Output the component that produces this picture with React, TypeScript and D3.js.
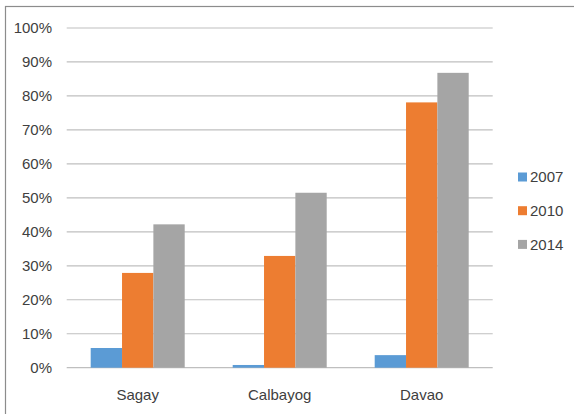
import React from "react";
import * as d3 from "d3";

// Share of households by city and survey year
const cities = ["Sagay", "Calbayog", "Davao"];
const years = ["2007", "2010", "2014"];
const values2007 = [5.8, 0.8, 3.7];
const values2010 = [27.9, 32.9, 78.1];
const values2014 = [42.2, 51.5, 86.8];
const yTicks = [0, 10, 20, 30, 40, 50, 60, 70, 80, 90, 100];
const colors = ["#5B9BD5", "#ED7D31", "#A5A5A5"];

const W = 574;
const H = 414;
const FONT = "'Liberation Sans', Arial, sans-serif";

export default function App() {
  const series = [values2007, values2010, values2014];
  const x0 = d3.scaleBand<string>().domain(cities).range([66.7, 492.7]).paddingInner(0).paddingOuter(0);
  const groupW = x0.bandwidth() * 0.662;
  const x1 = d3
    .scaleBand<string>()
    .domain(years)
    .range([(x0.bandwidth() - groupW) / 2, (x0.bandwidth() + groupW) / 2]);
  const y = d3.scaleLinear().domain([0, 100]).range([367.7, 28]);

  return (
    <svg
      width={W}
      height={H}
      style={{ position: "absolute", left: 0, top: 0, background: "#fff" }}
      fontFamily={FONT}
    >
      <rect x={5.5} y={6.5} width={W} height={H} fill="#fff" stroke="#8c8c8c" strokeWidth={1.2} />
      {yTicks.map((t) => (
        <g key={t}>
          <line x1={x0.range()[0]} x2={x0.range()[1]} y1={y(t)} y2={y(t)} stroke="#bfbfbf" strokeWidth={1.2} />
          <text x={52} y={y(t)} dy="0.35em" textAnchor="end" fontSize={15} fill="#404040">
            {t}%
          </text>
        </g>
      ))}
      {cities.map((c, i) => (
        <g key={c} transform={`translate(${x0(c)},0)`}>
          {years.map((yr, j) => (
            <rect
              key={yr}
              x={x1(yr)}
              y={y(series[j][i])}
              width={x1.bandwidth()}
              height={y(0) - y(series[j][i])}
              fill={colors[j]}
            />
          ))}
          <text x={x0.bandwidth() / 2} y={395} dy="0.35em" textAnchor="middle" fontSize={15} fill="#404040">
            {c}
          </text>
        </g>
      ))}
      {years.map((yr, j) => (
        <g key={yr} transform={`translate(518,${177 + j * 33.7})`}>
          <rect x={0} y={-4.5} width={9} height={9} fill={colors[j]} />
          <text x={12} y={0} dy="0.35em" fontSize={15} fill="#404040">
            {yr}
          </text>
        </g>
      ))}
    </svg>
  );
}
